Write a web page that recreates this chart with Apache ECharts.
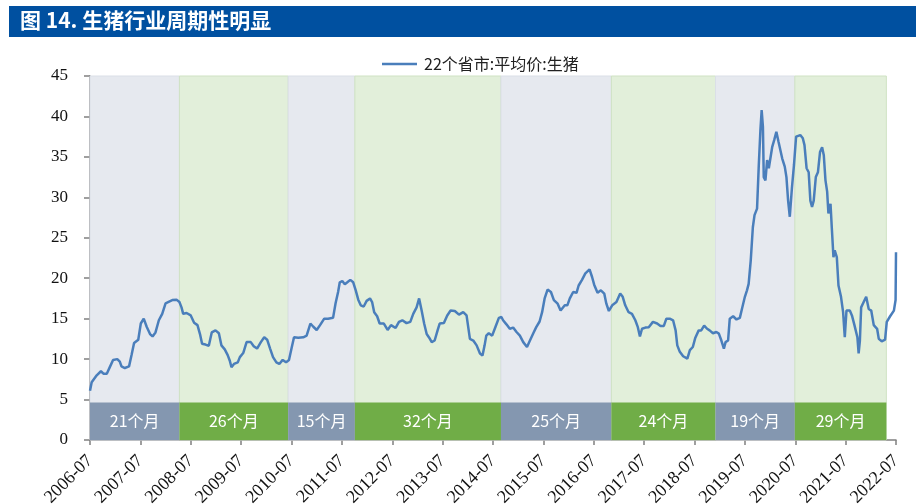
<!DOCTYPE html>
<html><head><meta charset="utf-8">
<script src="https://cdn.jsdelivr.net/npm/echarts@6/dist/echarts.min.js"></script>
<style>html,body{margin:0;padding:0;background:#fff}#c{width:916px;height:504px}</style>
</head><body><div id="c"></div>
<script>
// x values: months since 2006-07
var tickLabels = ['2006-07','2007-07','2008-07','2009-07','2010-07','2011-07','2012-07','2013-07','2014-07','2015-07','2016-07','2017-07','2018-07','2019-07','2020-07','2021-07','2022-07'];
var bandEdges = [0, 21.3, 47.2, 63.1, 97.9, 124.2, 149, 167.9, 189.7];
var cycleLabels = ['21个月','26个月','15个月','32个月','25个月','24个月','19个月','29个月'];
var boxTop = 4.65;
var months = [0,0.4,1.6,2.6,3.2,4,4.8,5.5,6.5,7.1,7.5,8.3,9.3,9.9,10.5,11.5,12.1,12.8,13.5,14.3,14.9,15.6,16.4,17.2,18,18.6,19.6,20.6,21.3,21.8,22.2,23,24,24.8,25.6,26.2,26.7,27.5,28.3,29,29.9,30.7,31.3,32.1,32.8,33.3,33.7,34.3,35.2,35.7,36.5,37.3,38.3,39,39.8,40.7,41.5,42.2,42.9,43.6,44.4,45.1,45.9,46.7,47.4,48,
48.6,49.6,50.8,51.6,52.5,53.2,54,54.8,55.8,56.7,57.9,58.5,59.1,59.5,60.1,60.7,61.3,62,62.7,63.3,63.9,64.5,65.2,65.9,66.7,67.2,67.7,68.4,69,70,70.9,71.7,72.8,73.6,74.4,75.4,76.3,77,77.8,78.4,79,79.6,80.2,80.8,81.4,82.1,82.8,83.3,84.3,85.1,85.9,86.9,87.9,88.9,89.7,90.5,91.3,92.1,92.9,93.5,94,94.4,95,95.8,96.6,97.4,98,
98.4,99.2,100,100.8,101.6,102.4,103.2,104.1,104.8,105.6,106.3,107.1,107.7,108.3,109,109.8,110.5,111.4,112.1,113.1,113.7,114.3,115.1,115.9,116.4,117.2,118,119,119.6,120.1,120.9,121.7,122.5,123,123.6,124.4,125.4,126.3,126.9,127.5,128.3,129.1,129.9,130.5,131,131.5,132.3,133.1,134.1,135.1,135.9,136.7,137.3,138.1,138.9,139.5,139.9,140.5,141.3,142.3,142.9,143.6,144.2,145,145.6,146.3,147,147.6,148.4,149.2,149.8,150.4,151,
151.4,152,152.4,153.2,154,154.8,155.3,156,156.5,156.9,157.4,157.9,158.3,158.9,159.3,159.7,160,160.3,160.5,160.9,161.3,161.7,162.1,162.5,163,163.5,164,164.4,164.9,165.5,165.9,166.3,166.7,167.2,167.7,168.2,168.6,169.2,169.8,170.2,170.7,171.2,171.6,172,172.4,172.9,173.4,173.9,174.4,174.8,175.2,175.6,175.9,176.4,176.7,177.1,177.4,177.9,178.3,178.9,179.4,179.8,180.2,181,181.5,182.1,182.8,183.1,183.4,183.7,184.3,184.9,185.5,186.1,186.7,187.5,187.9,188.6,189.4,189.8,190.6,191.5,191.9,192];
var prices = [6.1,7.15,8.0,8.5,8.2,8.2,9.1,9.9,10.0,9.7,9.1,8.9,9.1,10.5,12.0,12.4,14.4,15.0,14.0,13.1,12.8,13.3,14.8,15.6,16.9,17.05,17.3,17.35,17.05,16.4,15.6,15.7,15.4,14.5,14.2,13.1,11.9,11.8,11.65,13.3,13.55,13.2,11.7,11.2,10.5,9.8,9.0,9.4,9.6,10.25,10.75,12.1,12.1,11.6,11.3,12.1,12.7,12.4,11.3,10.25,9.6,9.4,9.9,9.6,9.9,11.3,
12.7,12.65,12.7,12.9,14.4,14.0,13.6,14.2,15.0,15.0,15.1,16.9,18.3,19.5,19.65,19.25,19.5,19.8,19.5,18.5,17.35,16.65,16.5,17.2,17.5,17.05,15.8,15.3,14.4,14.4,13.6,14.2,13.85,14.6,14.8,14.45,14.6,15.6,16.4,17.5,16.0,14.4,13.1,12.65,12.1,12.3,13.55,14.4,14.45,15.4,16.0,15.95,15.5,15.8,15.4,12.5,12.3,11.7,10.7,10.45,11.7,12.9,13.2,12.9,14.0,15.1,15.2,
14.8,14.3,13.75,13.9,13.35,12.9,12.1,11.5,12.3,13.2,13.95,14.65,15.8,17.5,18.6,18.3,17.3,16.85,16.0,16.65,16.65,17.5,18.3,18.2,19.1,19.8,20.6,21.1,20.15,19.2,18.2,18.5,18.1,16.85,15.95,16.65,17.05,18.1,17.7,16.65,15.8,15.6,14.8,13.95,12.8,13.75,13.9,13.95,14.6,14.4,14.1,14.1,15.0,15.0,14.8,13.55,11.7,10.9,10.35,10.05,11.1,11.5,12.65,13.55,13.55,14.15,13.75,13.55,13.2,13.35,13.15,12.3,11.3,
12.1,12.3,15.0,15.3,14.9,15.1,16.2,17.7,18.5,19.3,22.2,26.3,27.8,28.6,33.8,38.3,40.8,38.7,32.5,32.1,34.6,33.6,33.8,36.2,37.1,38.1,36.9,36.7,34.8,33.8,32.5,29.6,27.6,31.1,34.0,37.5,37.4,37.7,37.3,36.45,33.6,33.1,29.6,28.8,29.6,32.5,33.1,35.6,36.2,35.2,32.1,30.7,28.0,29.2,26.3,22.6,23.45,22.6,19.1,17.7,15.8,12.7,16.0,16.0,15.4,14.2,12.7,10.7,12.3,16.4,17.05,17.7,16.2,16.0,14.2,13.75,12.5,12.2,12.4,14.6,15.3,16.0,17.3,23.2];

var bandColors = ['#E6E9EF','#E2EFDA'];
var boxColors = ['#8497B0','#70AD47'];
var bandBorders = ['#DADFE7','#CFE2C3'];

var bands = [], boxes = [];
for (var i = 0; i < cycleLabels.length; i++) {
  var k = i % 2;
  bands.push([{xAxis: bandEdges[i], yAxis: 0, itemStyle: {color: bandColors[k], borderColor: bandBorders[k], borderWidth: 1}},
              {xAxis: bandEdges[i+1], yAxis: 45}]);
  boxes.push([{name: cycleLabels[i], xAxis: bandEdges[i], yAxis: 0, itemStyle: {color: boxColors[k]}},
              {xAxis: bandEdges[i+1], yAxis: boxTop}]);
}
var lineData = months.map(function (m, i) { return [m, prices[i]]; });

var chart = echarts.init(document.getElementById('c'), null, {renderer: 'canvas'});
chart.setOption({
  animation: false,
  backgroundColor: '#fff',
  graphic: [
    {type: 'rect', left: 9, top: 6, shape: {width: 907, height: 31}, style: {fill: '#0050A0'}, z: 10},
    {type: 'text', left: 20, top: 10, style: {text: '图 14. 生猪行业周期性明显', fill: '#fff', font: 'bold 21px "Noto Sans CJK SC", sans-serif'}, z: 11}
  ],
  legend: {
    data: ['22个省市:平均价:生猪'],
    top: 51, left: 377,
    icon: 'rect', itemWidth: 35, itemHeight: 2.5, itemGap: 10,
    textStyle: {fontFamily: 'Noto Sans CJK SC', fontSize: 16, color: '#222', padding: [0, 0, 0, 2]}
  },
  grid: {left: 90, right: 20, top: 76, bottom: 64, outerBoundsMode: 'none', containLabel: false},
  xAxis: {
    type: 'value', min: 0, max: 192, interval: 12,
    axisLine: {show: true, lineStyle: {color: '#808080', width: 1.5}},
    axisTick: {show: true, length: 5, lineStyle: {color: '#808080', width: 1.5}},
    splitLine: {show: false},
    axisLabel: {
      rotate: 45, margin: 18, color: '#111',
      fontFamily: 'Liberation Serif', fontSize: 18,
      formatter: function (v) { return tickLabels[Math.round(v / 12)] || ''; }
    }
  },
  yAxis: {
    type: 'value', min: 0, max: 45, interval: 5,
    axisLine: {show: true, lineStyle: {color: '#808080', width: 1.5}},
    axisTick: {show: true, length: 6, lineStyle: {color: '#808080', width: 1.5}},
    splitLine: {show: false},
    axisLabel: {margin: 22, color: '#111', fontFamily: 'Liberation Serif', fontSize: 17}
  },
  series: [
    {
      name: 'bands', type: 'line', data: [], silent: true,
      markArea: {silent: true, z: 1, data: bands, label: {show: false}}
    },
    {
      name: 'boxes', type: 'line', data: [], silent: true,
      markArea: {silent: true, z: 2, data: boxes,
        label: {show: true, position: 'inside', color: '#fff', fontFamily: 'Noto Sans CJK SC', fontSize: 16}}
    },
    {
      name: '22个省市:平均价:生猪', type: 'line', z: 5,
      data: lineData, symbol: 'none', smooth: false,
      lineStyle: {color: '#4A7EBB', width: 2.5},
      itemStyle: {color: '#4A7EBB'}
    }
  ]
});
</script></body></html>
